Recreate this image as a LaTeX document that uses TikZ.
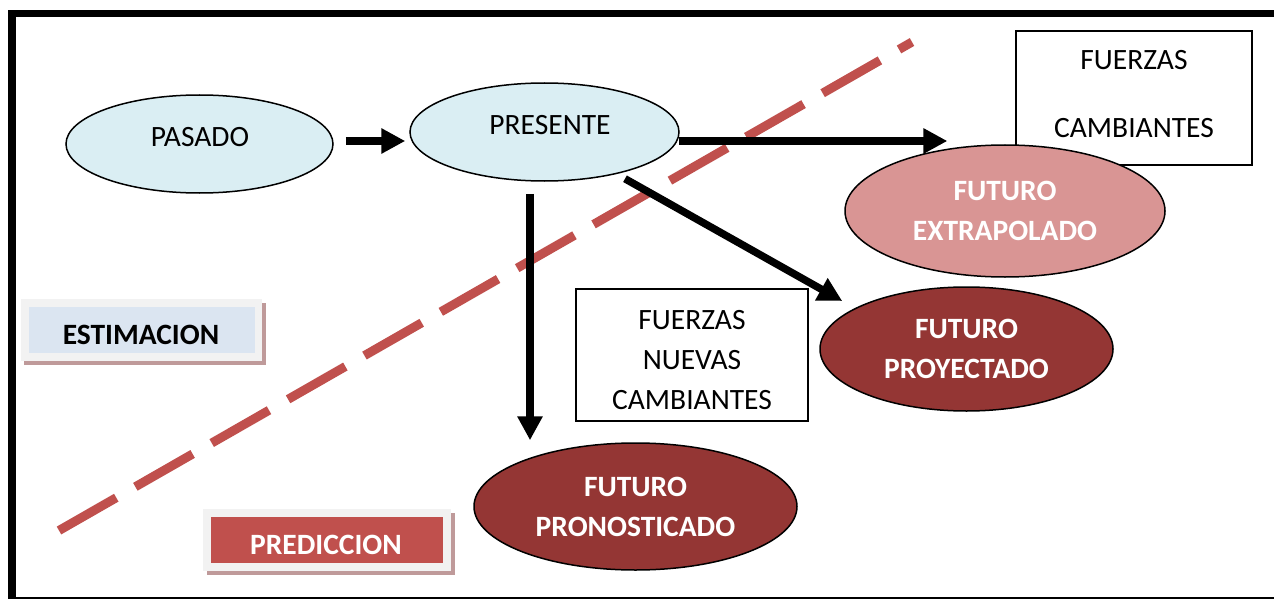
\documentclass[tikz,border=0pt]{standalone}
\usepackage{fontspec}
\setmainfont{Carlito}
\usetikzlibrary{shapes.geometric,arrows.meta,calc}
\definecolor{lblue}{HTML}{DAEEF3}
\definecolor{pinkred}{HTML}{D99594}
\definecolor{darkred}{HTML}{943634}
\definecolor{redline}{HTML}{C0504D}
\definecolor{estblue}{HTML}{DBE5F1}
\definecolor{boxgrey}{HTML}{F2F2F2}
\definecolor{shadowc}{HTML}{BF9A9A}
\begin{document}
\begin{tikzpicture}[x=1pt,y=-1pt,
 every node/.style={font=\fontsize{29.5}{40}\selectfont, inner sep=0pt},
 ell/.style={ellipse, draw=black, line width=1.5pt},
 fut/.style={text=white, font=\fontsize{29.5}{40}\selectfont\bfseries, align=center},
 fbox/.style={draw=black, line width=1.3pt, fill=white},
 arr/.style={line width=7.5pt, -{Triangle[length=24pt,width=24pt]}},
 boldlbl/.style={font=\fontsize{29.5}{40}\selectfont\bfseries},
 dashline/.style={draw=redline, line width=9pt, dash pattern=on 66pt off 22pt},
]
\useasboundingbox (0,0) rectangle (1274,599);
\clip (0,0) rectangle (1274,599);
\fill[white] (0,0) rectangle (1274,599);
\draw[line width=7.5pt] (12,13.5) rectangle (1300,600.5);

% dashed separation line
\coordinate (d1) at (59,530.5);
\coordinate (d2) at (912,42);
\draw[dashline] (d1) -- (d2);

% boxes
\node[fbox, minimum width=236pt, minimum height=134pt] (fc) at (1134,98) {};
\node[align=center] (fct) at (1134,94.5) {FUERZAS\\[28pt]CAMBIANTES};
\node[fbox, minimum width=232pt, minimum height=132pt] (fnc) at (692,355) {};
\node[align=center] (fnct) at (692,360) {FUERZAS\\NUEVAS\\CAMBIANTES};

% ellipses
\node[ell, fill=lblue, minimum width=267pt, minimum height=98pt] (pasado) at (199.5,144) {};
\node (pasadot) at (200,137) {PASADO};
\node[ell, fill=lblue, minimum width=269pt, minimum height=98pt] (presente) at (544.5,132) {};
\node (presentet) at (550,125) {PRESENTE};
\node[ell, fill=pinkred, minimum width=320pt, minimum height=132pt, fut] (extra) at (1005,211) {FUTURO\\EXTRAPOLADO};
\node[ell, fill=darkred, minimum width=293pt, minimum height=124pt, fut] (proy) at (966.5,349) {FUTURO\\PROYECTADO};
\node[ell, fill=darkred, minimum width=323pt, minimum height=127pt, fut] (pron) at (635.5,506.5) {FUTURO\\PRONOSTICADO};

% label boxes
\fill[shadowc] (24,303) rectangle (265.5,364.5);
\node[fill=boxgrey, minimum width=241pt, minimum height=62pt] (estout) at (141.5,330) {};
\node[fill=estblue, minimum width=226pt, minimum height=46pt] (estin) at (142,330) {};
\node[boldlbl] (est) at (141,335) {ESTIMACION};

\fill[shadowc] (206.5,513) rectangle (455,575);
\node[fill=boxgrey, minimum width=248pt, minimum height=62pt] (predout) at (327,540) {};
\node[fill=redline, minimum width=232pt, minimum height=46pt] (predin) at (327,540) {};
\node[boldlbl, text=white] (pred) at (326,545) {PREDICCION};

% arrows
\draw[arr] ($(pasado.east)+(12,-3)$) -- ($(presente.west)+(-4,9)$);
\draw[arr] ($(presente.east)+(-1,9)$) -- ($(fc.west)+(-68,43)$);
\draw[arr] ($(presente.south)+(80.5,-3)$) -- ($(proy.west)+(23,-48)$);
\draw[arr] ($(presente.south)+(-14.5,12)$) -- ($(pron.north)+(-105.5,-2)$);
\end{tikzpicture}
\end{document}
